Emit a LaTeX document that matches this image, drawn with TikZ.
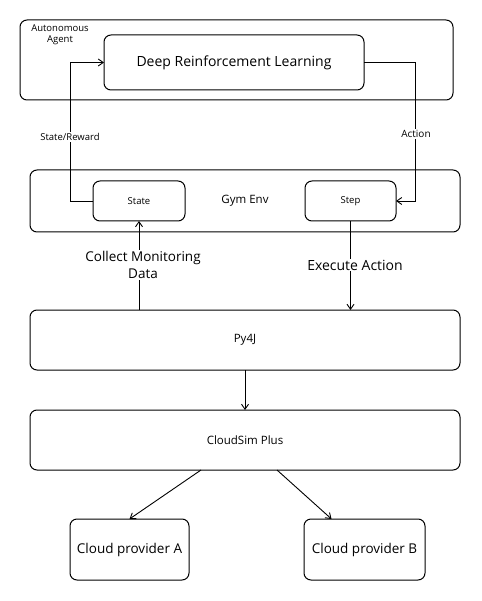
\documentclass[tikz,border=0pt]{standalone}
\usepackage{fontspec}
\setmainfont{Open Sans}
\usetikzlibrary{arrows.meta,positioning,calc}
\tikzset{>={Straight Barb[length=5pt,width=7pt]}}
\tikzset{sketch/.style={draw, line width=1pt, rounded corners=7pt, outer sep=0pt, inner sep=2pt}}
\tikzset{lbl/.style={fill=white, inner sep=1pt, align=center}}

\begin{document}
\begin{tikzpicture}[x=1pt, y=-1pt]
                % Canvas
                \useasboundingbox (0,0) rectangle (481,601);

                % Agent
                \node[sketch, minimum width=433pt, minimum height=80pt] (agent) at (236.5,60) {};
                \node[align=center, font=\fontsize{9.5}{11}\selectfont] (agentlbl) at (60,35) {Autonomous\\Agent};
                \node[sketch, minimum width=260pt, minimum height=55pt, font=\fontsize{14}{16}\selectfont] (drl) at (234,62.5) {Deep Reinforcement Learning};

                % Gym environment
                \node[sketch, minimum width=430pt, minimum height=62pt, font=\fontsize{11.5}{13}\selectfont] (gym) at (245,201) {Gym Env};
                \node[sketch, minimum width=92pt, minimum height=40pt, font=\fontsize{9.5}{11}\selectfont] (state) at (139,201) {State};
                \node[sketch, minimum width=91pt, minimum height=40pt, font=\fontsize{9.5}{11}\selectfont] (step) at (350.5,201) {Step};

                % Bridge and simulator
                \node[sketch, minimum width=430pt, minimum height=60pt, font=\fontsize{11.5}{13}\selectfont] (py4j) at (245,340) {Py4J};
                \node[sketch, minimum width=430pt, minimum height=60pt, font=\fontsize{11.5}{13}\selectfont] (cloudsim) at (245,440) {CloudSim Plus};
                \node[sketch, minimum width=119pt, minimum height=61pt, font=\fontsize{13.5}{15}\selectfont] (cpa) at (129.5,549.5) {Cloud provider A};
                \node[sketch, minimum width=121pt, minimum height=61pt, font=\fontsize{13.5}{15}\selectfont] (cpb) at (364.5,549.5) {Cloud provider B};

                % Connectors
                \draw[->, line width=0.9pt] (state.west) -- ++(-23,0) |- (drl.west);
                \draw[->, line width=0.9pt] (drl.east) -- ++(51,0) |- (step.east);
                \draw[->, line width=0.9pt] (state.south |- py4j.north) -- (state.south);
                \draw[->, line width=0.9pt] (step.south) -- (step.south |- py4j.north);
                \draw[->, line width=0.9pt] (py4j.south) -- (cloudsim.north);
                \draw[->, line width=0.9pt] ([xshift=-44pt]cloudsim.south) -- (cpa.north);
                \draw[->, line width=0.9pt] ([xshift=32pt]cloudsim.south) -- ([xshift=-33pt]cpb.north);

                % Labels on connectors
                \node[lbl, font=\fontsize{9.5}{11}\selectfont] (srlbl) at (70,137) {State/Reward};
                \node[lbl, font=\fontsize{10}{11}\selectfont] (actlbl) at (416,134) {Action};
                \node[lbl, font=\fontsize{13.5}{17}\selectfont] (collbl) at (143,265) {Collect Monitoring\\Data};
                \node[lbl, font=\fontsize{14}{15}\selectfont] (exelbl) at (355,265) {Execute Action};
            \end{tikzpicture}
\end{document}
